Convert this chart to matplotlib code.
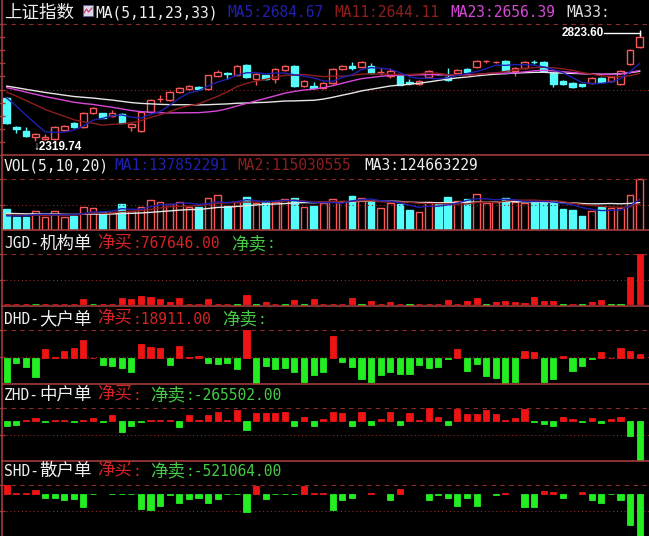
import matplotlib
matplotlib.use('Agg')
import matplotlib.pyplot as plt
from matplotlib.patches import Rectangle
from matplotlib.lines import Line2D
import numpy as np
import pandas as pd

W, H = 649, 536

# ---------------- data ----------------
opens = [2520, 2385, 2366, 2338, 2329, 2329, 2371, 2404, 2385, 2450,
         2450, 2436, 2446, 2385, 2366, 2455, 2514, 2511, 2548, 2562,
         2572, 2562, 2623, 2637, 2628, 2674, 2609, 2628, 2609, 2651,
         2670, 2576, 2576, 2567, 2590, 2656, 2670, 2665, 2670, 2640,
         2623, 2623, 2595, 2586, 2618, 2633, 2618, 2637, 2656, 2665,
         2692, 2687, 2693, 2646, 2660, 2689, 2688, 2637, 2600, 2590,
         2586, 2590, 2614, 2600, 2586, 2679, 2758]
highs = [2525, 2390, 2385, 2357, 2352, 2388, 2394, 2408, 2455, 2478,
         2452, 2466, 2450, 2402, 2460, 2516, 2532, 2552, 2572, 2580,
         2575, 2630, 2650, 2640, 2674, 2679, 2635, 2630, 2660, 2674,
         2674, 2604, 2595, 2595, 2660, 2674, 2688, 2693, 2684, 2660,
         2660, 2628, 2609, 2604, 2650, 2637, 2660, 2655, 2660, 2697,
         2697, 2693, 2697, 2663, 2692, 2700, 2692, 2640, 2604, 2595,
         2588, 2618, 2618, 2622, 2650, 2748, 2823.60]
lows = [2400, 2357, 2340, 2319.74, 2326, 2326, 2366, 2380, 2380, 2446,
        2425, 2432, 2402, 2366, 2362, 2452, 2502, 2508, 2545, 2558,
        2560, 2560, 2618, 2609, 2625, 2616, 2581, 2605, 2590, 2648,
        2574, 2572, 2565, 2562, 2586, 2651, 2651, 2660, 2632, 2628,
        2614, 2579, 2581, 2583, 2614, 2628, 2600, 2632, 2640, 2662,
        2684, 2683, 2643, 2623, 2657, 2679, 2643, 2572, 2583, 2567,
        2574, 2588, 2593, 2597, 2583, 2676, 2755]
closes = [2404, 2376, 2343, 2352, 2338, 2385, 2390, 2385, 2450, 2474,
          2427, 2450, 2404, 2399, 2455, 2511, 2517, 2548, 2567, 2576,
          2562, 2628, 2642, 2632, 2670, 2618, 2632, 2609, 2656, 2670,
          2576, 2600, 2567, 2590, 2656, 2670, 2660, 2688, 2637, 2642,
          2646, 2581, 2590, 2600, 2646, 2631, 2604, 2651, 2642, 2693,
          2694, 2689, 2646, 2660, 2688, 2687, 2646, 2586, 2586, 2572,
          2576, 2614, 2595, 2618, 2646, 2744, 2805]
# closes before the visible window (they set the start of the MA lines)
prev_close = [2598, 2605, 2590, 2584, 2593, 2601, 2588, 2579, 2586, 2592,
              2595, 2602, 2589, 2578, 2583, 2596, 2590, 2584, 2577, 2588,
              2592, 2581, 2575, 2568, 2580, 2572, 2566, 2561, 2562, 2555,
              2548, 2531]

# volume, millions of shares
volume = [95, 58, 58, 86, 58, 86, 58, 63, 104, 99,
          81, 81, 117, 86, 104, 135, 126, 117, 126, 104,
          104, 144, 158, 108, 126, 149, 122, 131, 126, 140,
          144, 104, 108, 122, 140, 131, 153, 144, 131, 99,
          122, 117, 90, 81, 126, 122, 149, 131, 140, 162,
          122, 126, 144, 126, 122, 126, 126, 131, 95, 90,
          63, 86, 104, 99, 99, 158, 230]
prev_volume = [80, 86, 78, 74, 90, 82, 77, 85, 79, 88,
               72, 68, 75, 70, 80, 60, 54, 57, 53]

jgd = [6000, 5000, 7000, -6000, 5000, 6000, 7000, 5000, 74000, -6000,
       6000, 5000, 94000, 74000, 125000, 114000, 78000, 36000, 94000, 6000,
       5000, 78000, 6000, 4000, -27000, 141000, -15000, 36000, 6000, -8000,
       63000, -14000, 78000, 6000, 7000, 6000, 89000, -8000, 52000, 6000,
       27000, 7000, -31000, 5000, 6000, 7000, 67000, 6000, 42000, 99000,
       -31000, 27000, 42000, 27000, 8000, 114000, 42000, 52000, -8000, 6000,
       -8000, 27000, 67000, -8000, -8000, 418000, 767646]
dhd = [-100000, -19000, -36500, -78000, 36500, 4400, 32000, 44000, 76000, 2200,
       -29500, -34000, -41000, -58500, 58500, 48400, 44000, -29500, 51500, 4400,
       7500, -19000, -25000, -19000, -44000, 117500, -107000, -34000, -44000, -39600,
       -56000, -98000, -70400, -57000, 92400, -14500, -36500, -85000, -100000, -69000,
       -56000, -66000, -66000, -29500, -41000, -36500, -4400, 36500, -54000, -25000,
       -73500, -80500, -107000, -100000, 32000, 25000, -100000, -88000, 10000, -54000,
       -34000, -4400, 25000, 2200, 41000, 32000, 18911]
zhd = [-34700, -22900, 4900, 18700, -4900, 4900, 4900, -4900, 4900, 18700,
       -4900, 39500, -69300, -34700, -4900, 4900, 4900, 4900, -41600, 39500,
       4900, 39500, 62400, 4900, 74200, -57500, 53400, 53400, 53400, 64500,
       -34700, 27700, -29800, 15900, 62400, 53400, -34700, 62400, -27700, 11800,
       62400, -22900, 53400, 4900, 88000, 29800, -27700, 81100, 46400, 46400,
       74200, 46400, 4900, 22900, 81100, -4900, -18700, -34700, 29800, 15900,
       -4900, 18700, -13900, 11800, 29800, -99100, -265502]
shd = [105000, 8900, 8900, 47000, -54600, -54600, -76200, -72400, -169000, -8900,
       0, -8900, -8900, -8900, -190500, -199400, -156200, -21600, -118100, -72400,
       -54600, -118100, -72400, -8900, -8900, -224800, 92700, -72400, -8900, -8900,
       -8900, 92700, 8900, 8900, -203200, -76200, -54600, 0, 12700, 0,
       -76200, 50800, 0, 0, -76200, -21600, -54600, -156200, -50800, -156200,
       0, -21600, 8900, 0, -168900, -168900, 34300, 21600, -50800, 0,
       21600, -76200, -114300, -8900, -76200, -389900, -521064]

price_range = (2254, 2866)

# ---------------- style ----------------
BG = 'black'
SEP = '#a03c3c'
GRID = '#8c2a2a'
UP = '#f85858'
DOWN = '#54fcfc'
BAR_RED = '#ee1414'
BAR_GREEN = '#22ee22'
WHITE = '#f0f0f0'
BLUE = '#2020b0'
DARKRED = '#8e1e1e'
MAGENTA = '#d848d8'
TXT_RED = '#d42424'
TXT_GREEN = '#44cc44'
MONO = 'DejaVu Sans Mono'
CJK = 'Noto Sans CJK SC'

FIRST_X, STEP = 6.7, 9.59   # pixel position of first candle and spacing
TITLE_PX = 24

fig = plt.figure(figsize=(W / 100, H / 100), dpi=100, facecolor=BG)
n = len(closes)
idx = np.arange(n)
xlim = ((2 - FIRST_X) / STEP, (W - FIRST_X) / STEP)


def make_panel(top, bottom, lo, hi, first=False):
    ax = fig.add_axes([2 / W, 1 - bottom / H, (W - 2) / W, (bottom - top) / H])
    ax.set_facecolor(BG)
    data_px = bottom - top - TITLE_PX
    ax.set_ylim(lo, hi + (hi - lo) * TITLE_PX / data_px)
    ax.set_xlim(*xlim)
    for s in ('right', 'bottom'):
        ax.spines[s].set_visible(False)
    for s in ('left', 'top'):
        ax.spines[s].set_color(SEP)
        ax.spines[s].set_linewidth(1.2)
    ax.spines['top'].set_visible(not first)
    ax.set_xticks([])
    ax.tick_params(axis='y', direction='inout', length=5, color=SEP,
                   labelleft=False, width=1)
    ax.axhline(hi, color=GRID, lw=0.8, ls=(0, (4, 4)))
    ax.axhline((lo + hi) / 2, color=GRID, lw=0.8, ls=(0, (1, 2.5)))
    ax.set_yticks([(lo + hi) / 2, hi])
    return ax


def title(x, y, s, color):
    # fixed-width layout: ASCII half width, CJK full width
    runs = []
    for ch in s:
        wide = ord(ch) > 127
        if runs and runs[-1][0] == wide:
            runs[-1][1] += ch
        else:
            runs.append([wide, ch])
    for wide, txt in runs:
        fig.text(x / W, 1 - y / H, txt, color=color, va='center', ha='left',
                 family=CJK if wide else MONO, fontsize=12.6 if wide else 10.5)
        x += len(txt) * 8.8 * (2 if wide else 1)


# ---------------- price panel ----------------
lo, hi = price_range
ax = make_panel(0, 155, lo, hi, first=True)
ax.set_yticks(lo + (hi - lo) * np.arange(11) / 10)
o, h, l, c = (np.array(a, dtype=float) for a in (opens, highs, lows, closes))
up = c >= o
col = np.where(up, UP, DOWN)
body_lo = np.minimum(o, c)
body_hi = np.maximum(o, c)
ax.vlines(idx, body_hi, h, color=col, lw=1)
ax.vlines(idx, l, body_lo, color=col, lw=1)
ax.bar(idx, np.maximum(body_hi - body_lo, 1.2), bottom=body_lo, width=0.68,
       color=np.where(up, BG, DOWN), edgecolor=col, linewidth=1)

close_all = pd.Series(prev_close + closes, dtype=float)
for win, mc in ((33, '#e6e6e6'), (23, MAGENTA), (11, DARKRED), (5, BLUE)):
    ma = close_all.rolling(win).mean().to_numpy()[len(prev_close):]
    ax.plot(idx, ma, color=mc, lw=1, zorder=4)

imax = int(np.argmax(h))
ax.plot([imax - 3.7, imax], [h[imax]] * 2, color='white', lw=1, zorder=5)
ax.plot([imax], [h[imax]], marker='|', color='white', ms=4, zorder=5)
ax.text(imax - 3.75, h[imax], f'{h[imax]:.2f}', color='white', ha='right',
        va='center', family=['Liberation Sans', 'DejaVu Sans'],
        fontweight='bold', fontsize=8.5, zorder=5)
imin = int(np.argmin(l))
ax.text(imin - 0.2, l[imin], f'\u2193{l[imin]:.2f}', color='white', ha='left',
        va='top', family=['Liberation Sans', 'DejaVu Sans'],
        fontweight='bold', fontsize=8.5, zorder=5)

title(4, 12.5, '上证指数', WHITE)
fig.add_artist(Rectangle((83 / W, 1 - 16 / H), 10 / W, 11 / H,
                         transform=fig.transFigure, facecolor='#d8d8e8',
                         edgecolor='#6060a0', lw=0.6))
fig.add_artist(Line2D(np.array([84, 86.5, 88.5, 92]) / W,
                      1 - np.array([13, 9, 12, 8]) / H,
                      transform=fig.transFigure, color='#d03060', lw=0.8))
title(95, 12.5, 'MA(5,11,23,33)', WHITE)
title(227, 12.5, 'MA5:2684.67', BLUE)
title(334, 12.5, 'MA11:2644.11', DARKRED)
title(450, 12.5, 'MA23:2656.39', MAGENTA)
title(566, 12.5, 'MA33:', '#dcdcdc')

# ---------------- volume panel ----------------
vol = np.array(volume, dtype=float)
ax = make_panel(155, 230, 0, vol.max())
ax.bar(idx, vol, width=0.7, color=np.where(up, BG, DOWN), edgecolor=col,
       linewidth=1)
vol_all = pd.Series(prev_volume + volume, dtype=float)
for win, mc in ((20, '#e6e6e6'), (10, DARKRED), (5, BLUE)):
    ma = vol_all.rolling(win).mean().to_numpy()[len(prev_volume):]
    ax.plot(idx, ma, color=mc, lw=1, zorder=4)
title(4, 166, 'VOL(5,10,20)', WHITE)
title(114, 166, 'MA1:137852291', BLUE)
title(237, 166, 'MA2:115030555', DARKRED)
title(364, 166, 'MA3:124663229', WHITE)

# ---------------- order-flow panels ----------------
# (top px, bottom px, values, name, buy text, sell text, sell x, title y)
flows = [
    (230, 306, jgd, 'JGD-机构单', '净买:767646.00', '净卖:', 231, 244),
    (306, 384, dhd, 'DHD-大户单', '净买:18911.00', '净卖:', 222, 319),
    (384, 461, zhd, 'ZHD-中户单', '净买:', '净卖:-265502.00', 150, 395),
    (461, 536, shd, 'SHD-散户单', '净买:', '净卖:-521064.00', 150, 471),
]
for top, bottom, series, name, buy, sell, sell_x, ty in flows:
    v = np.array(series, dtype=float)
    ax = make_panel(top, bottom, v.min(), v.max())
    keep = v != 0
    bc = np.where(v > 0, BAR_RED, BAR_GREEN)[keep]
    ax.bar(idx[keep], v[keep], width=0.64, color=bc, edgecolor=bc,
           linewidth=0.6, zorder=3)
    title(4, ty, name, WHITE)
    title(97, ty, buy, TXT_RED)
    title(sell_x, ty, sell, TXT_GREEN)

fig.savefig('out.png', dpi=100, facecolor=BG)
